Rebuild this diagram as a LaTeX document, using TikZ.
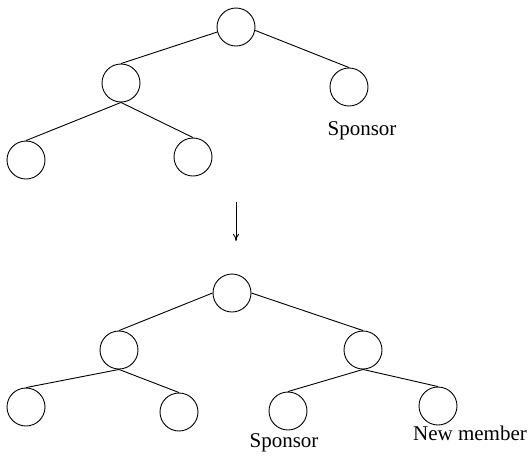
\documentclass[tikz,border=0pt]{standalone}
\usepackage{fontspec}
\setmainfont{Liberation Serif}
\usetikzlibrary{arrows.meta}

\tikzset{
    member/.style={draw, circle, inner sep=0pt, minimum size=38pt},
    tag/.style={anchor=base, inner sep=0pt, font=\fontsize{21}{25}\selectfont},
    link/.style={line width=0.9pt}
}

\begin{document}
\begin{tikzpicture}[x=1pt, y=-1pt, line width=0.9pt]
        \useasboundingbox (0, 0) rectangle (531, 459);

        % tree before the join
        \node[member] (T1) at (236,  27) {};
        \node[member] (T2) at (121,  83) {};
        \node[member] (T3) at (349,  87) {};
        \node[member] (T4) at ( 26, 160) {};
        \node[member] (T5) at (193, 157) {};
        \node[tag] (Ts) at (362, 135) {Sponsor};

        \draw [link] (T1.195) -- (T2.north);
        \draw [link] (T1.-10) -- (T3.north);
        \draw [link] (T2.south) -- (T4.north);
        \draw [link] (T2.south) -- (T5.north);

        % step
        \coordinate (Aa) at (236, 202);
        \coordinate (Ab) at (236, 241);
        \draw [link, -{To[length=7pt, width=6pt]}] (Aa) -- (Ab);

        % tree after the join
        \node[member] (B1) at (232, 293) {};
        \node[member] (B2) at (119, 350) {};
        \node[member] (B3) at (363, 350) {};
        \node[member] (B4) at ( 26, 407) {};
        \node[member] (B5) at (179, 412) {};
        \node[member] (B6) at (288, 411) {};
        \node[member] (B7) at (438, 406) {};
        \node[tag] (Bs) at (284, 447) {Sponsor};
        \node[tag] (Bn) at (470, 440) {New member};

        \draw [link] (B1.west) -- (B2.north);
        \draw [link] (B1.east) -- (B3.north);
        \draw [link] (B2.south) -- (B4.north);
        \draw [link] (B2.south) -- (B5.north);
        \draw [link] (B3.south) -- (B6.north);
        \draw [link] (B3.south) -- (B7.north);
    \end{tikzpicture}
\end{document}
